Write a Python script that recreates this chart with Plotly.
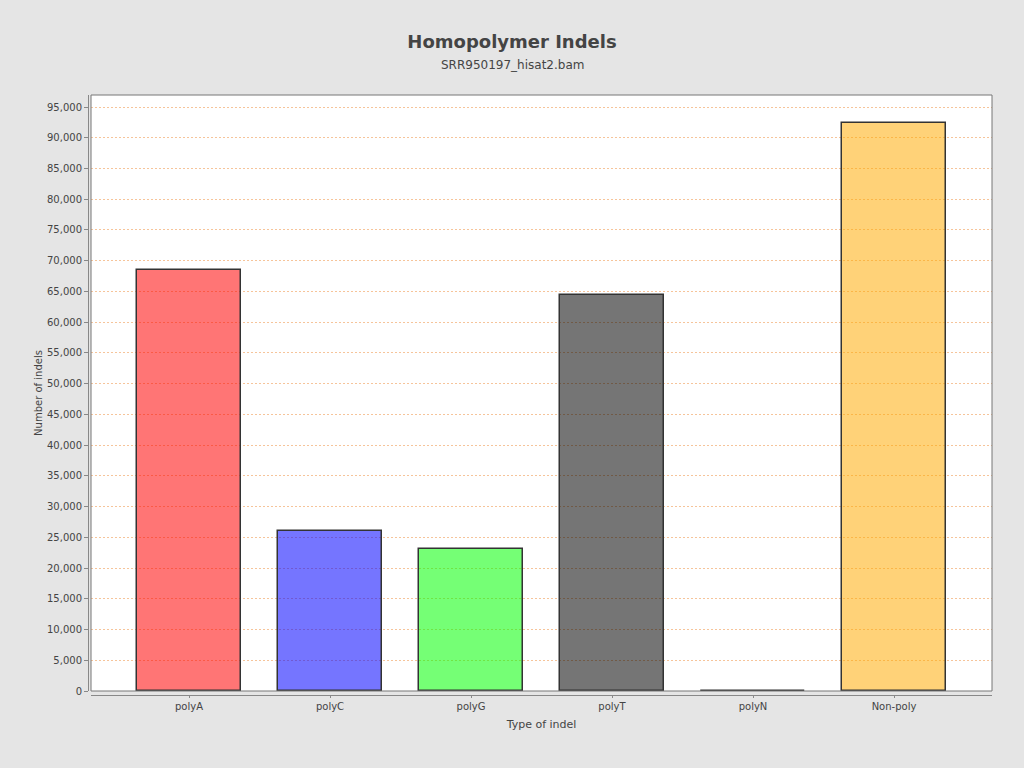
import plotly.graph_objects as go

categories = ["polyA", "polyC", "polyG", "polyT", "polyN", "Non-poly"]
values = [68500, 26000, 23100, 64400, 60, 92400]
bar_colors = ["rgba(255,0,0,0.54)", "rgba(0,0,255,0.54)", "rgba(0,255,0,0.54)",
              "rgba(0,0,0,0.54)", "rgba(128,128,128,0.54)", "rgba(255,170,0,0.53)"]
y_ticks = list(range(0, 95001, 5000))
y_tick_labels = [f"{v:,}" for v in y_ticks]

W, H = 1024, 768
ml, mr, mt, mb = 88, 32, 95, 73
pw = W - ml - mr
ph = H - mt - mb

fig = go.Figure()
fig.add_trace(go.Bar(
    x=list(range(len(categories))), y=values,
    marker=dict(color=bar_colors, line=dict(color="#333333", width=1.5)),
    width=0.738,
    hoverinfo="skip",
))

font = "DejaVu Sans, sans-serif"
fig.update_layout(
    width=W, height=H,
    margin=dict(l=ml, r=mr, t=mt, b=mb, pad=0),
    paper_bgcolor="#e5e5e5",
    plot_bgcolor="white",
    showlegend=False,
    bargap=0,
    title=dict(text="<b>Homopolymer Indels</b>", x=0.5, xref="container",
               y=1 - 42 / H, yref="container", yanchor="middle", xanchor="center",
               font=dict(family=font, size=18, color="#444444")),
    annotations=[dict(text="SRR950197_hisat2.bam", x=(512 - ml) / pw, xref="paper",
                      y=1 + 30 / ph, yref="paper", yanchor="middle", xanchor="center",
                      showarrow=False, font=dict(family=font, size=12, color="#444444"))],
    xaxis=dict(
        domain=[3 / pw, 1],
        anchor="free", position=0,
        range=[-0.695, 5.695],
        tickmode="array", tickvals=list(range(len(categories))), ticktext=categories,
        ticks="outside", ticklen=2, tickcolor="#888888",
        showline=True, linecolor="#888888", linewidth=1,
        showgrid=False, zeroline=False,
        tickfont=dict(family=font, size=10, color="#444444"),
        title=dict(text="Type of indel", standoff=9,
                   font=dict(family=font, size=11, color="#444444")),
    ),
    yaxis=dict(
        domain=[4 / ph, 1],
        anchor="free", position=0,
        range=[0, 96952],
        tickmode="array", tickvals=y_ticks, ticktext=y_tick_labels,
        ticks="outside", ticklen=4, tickcolor="#888888",
        showline=True, linecolor="#888888", linewidth=1,
        showgrid=True, gridcolor="#f6c49a", gridwidth=1, griddash="2px,2px",
        zeroline=False,
        tickfont=dict(family=font, size=10, color="#444444"),
        title=dict(text="Number of indels", standoff=1,
                   font=dict(family=font, size=10, color="#444444")),
    ),
    shapes=[dict(type="rect", xref="x domain", yref="y domain", x0=0, x1=1, y0=0, y1=1,
                 line=dict(color="#777777", width=1), fillcolor="rgba(0,0,0,0)", layer="above")],
)

post = ("document.body.style.margin='0';document.body.style.padding='0';"
        "document.querySelectorAll('.gridlayer path').forEach(function(p){p.style.shapeRendering='crispEdges';});")
fig.write_html("out.html", config={"displayModeBar": False}, post_script=post)
